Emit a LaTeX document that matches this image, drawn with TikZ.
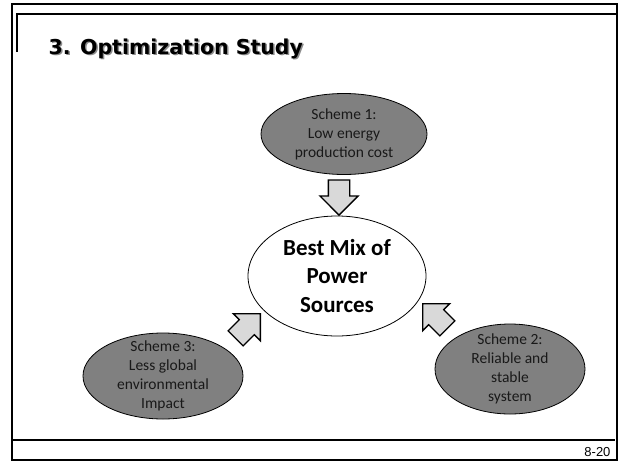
\documentclass[tikz,border=0pt]{standalone}
\usepackage{fontspec}
\setmainfont{Carlito}
\newfontfamily\titlefont{DejaVu Sans}
\newfontfamily\numfont{Liberation Sans}
\usepackage{tikz}
\usetikzlibrary{positioning, shapes.geometric, shapes.arrows, calc}
\definecolor{schgray}{HTML}{808080}
\definecolor{arrgray}{HTML}{D9D9D9}
\definecolor{shadegray}{HTML}{8C8C8C}

\begin{document}
\begin{tikzpicture}[
  x=1pt, y=-1pt,
  scheme/.style={
    ellipse, draw=black, fill=schgray, line width=0.8pt, inner sep=0pt
  },
  bestmix/.style={
    ellipse, draw=black, fill=white, line width=0.8pt, inner sep=0pt,
    minimum width=178pt, minimum height=120pt
  },
  blockarr/.style={
    single arrow, draw=black, fill=arrgray, line width=1.3pt,
    inner xsep=0pt, inner ysep=10pt, minimum height=35pt,
    single arrow head extend=8.5pt, anchor=tip
  },
  content/.style={font=\fontsize{15.5}{19}\selectfont, align=center, text=black!90},
  frame/.style={line width=2pt, black},
]
\useasboundingbox (0,0) rectangle (621,461);

% Frame
\draw[frame] (12,4) rectangle (617,460);
\draw[frame] (17,52) -- (17,14) -- (616,14);
\draw[frame] (12,440) -- (615,440);

% Title
\node[anchor=base west, text=shadegray,
      font=\titlefont\bfseries\fontsize{20.5}{24}\selectfont] at (46.5,55.5)
  {3. Optimization Study};
\node[anchor=base west, font=\titlefont\bfseries\fontsize{20.5}{24}\selectfont]
  (title) at (45,54) {3. Optimization Study};

% Center
\node[bestmix] (best) at (337,276) {};
\node[font=\bfseries\fontsize{23}{28.5}\selectfont, align=center] at (best.center)
  {Best Mix of\\Power\\Sources};

% Scheme 1
\node[scheme, minimum width=166pt, minimum height=81pt] (s1) at (344,134) {};
\node[content] at (s1.center) {Scheme 1:\\Low energy\\production cost};

% Scheme 2
\node[scheme, minimum width=150pt, minimum height=90pt] (s2) at (510,369) {};
\node[content] at (s2.center) {Scheme 2:\\Reliable and\\stable\\system};

% Scheme 3
\node[scheme, minimum width=160pt, minimum height=86pt] (s3) at (163,376) {};
\node[content] at (s3.center) {Scheme 3:\\Less global\\environmental\\Impact};

% Block arrows
\node[blockarr, rotate=-90] (a1) at (339,216) {};
\node[blockarr, rotate=135] (a2) at (422,303) {};
\node[blockarr, rotate=45] (a3) at (261,313) {};

% Page number
\node[anchor=base east, font=\numfont\fontsize{13}{15}\selectfont] (pg) at (614,456) {8-20};

\end{tikzpicture}
\end{document}
